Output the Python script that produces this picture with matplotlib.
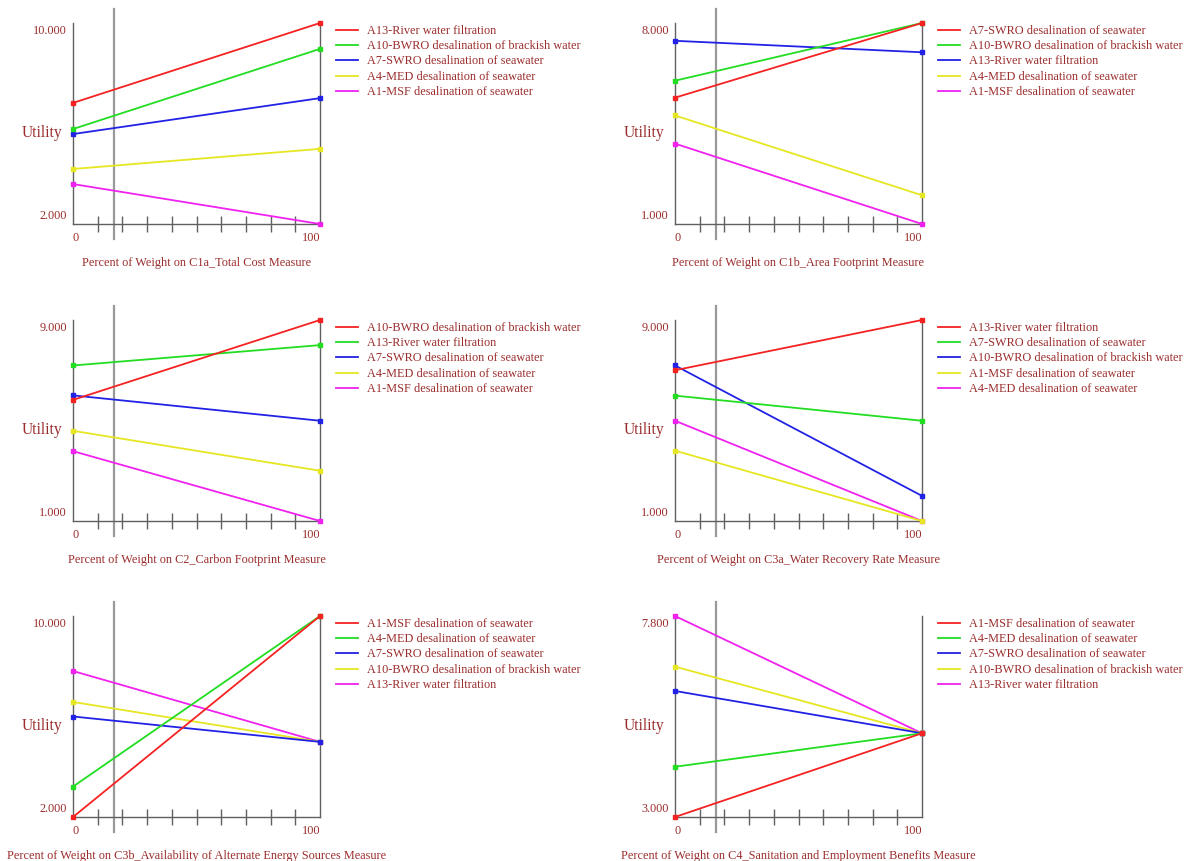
import matplotlib
matplotlib.use('Agg')
from matplotlib import pyplot as plt

# sensitivity of utility to the weight on each criterion (0% -> 100%)
current_weight = 100 / 6

crit_c1a = 'C1a_Total Cost Measure'
names_c1a = ['A13-River water filtration', 'A10-BWRO desalination of brackish water',
             'A7-SWRO desalination of seawater', 'A4-MED desalination of seawater',
             'A1-MSF desalination of seawater']
start_c1a = [6.82, 5.78, 5.58, 4.19, 3.59]
end_c1a = [10.0, 8.97, 7.01, 4.99, 2.0]
range_c1a = (2.0, 10.0)

crit_c1b = 'C1b_Area Footprint Measure'
names_c1b = ['A7-SWRO desalination of seawater', 'A10-BWRO desalination of brackish water',
             'A13-River water filtration', 'A4-MED desalination of seawater',
             'A1-MSF desalination of seawater']
start_c1b = [5.40, 5.99, 7.38, 4.78, 3.80]
end_c1b = [8.0, 8.0, 6.98, 2.0, 1.0]
range_c1b = (1.0, 8.0)

crit_c2 = 'C2_Carbon Footprint Measure'
names_c2 = ['A10-BWRO desalination of brackish water', 'A13-River water filtration',
            'A7-SWRO desalination of seawater', 'A4-MED desalination of seawater',
            'A1-MSF desalination of seawater']
start_c2 = [5.82, 7.19, 6.00, 4.59, 3.78]
end_c2 = [9.0, 8.0, 4.99, 3.0, 1.0]
range_c2 = (1.0, 9.0)

crit_c3a = 'C3a_Water Recovery Rate Measure'
names_c3a = ['A13-River water filtration', 'A7-SWRO desalination of seawater',
             'A10-BWRO desalination of brackish water', 'A1-MSF desalination of seawater',
             'A4-MED desalination of seawater']
start_c3a = [7.00, 5.99, 7.19, 3.80, 4.99]
end_c3a = [9.0, 4.99, 2.0, 1.0, 1.0]
range_c3a = (1.0, 9.0)

crit_c3b = 'C3b_Availability of Alternate Energy Sources Measure'
names_c3b = ['A1-MSF desalination of seawater', 'A4-MED desalination of seawater',
             'A7-SWRO desalination of seawater', 'A10-BWRO desalination of brackish water',
             'A13-River water filtration']
start_c3b = [2.0, 3.21, 6.0, 6.58, 7.81]
end_c3b = [10.0, 10.0, 4.99, 4.99, 4.99]
range_c3b = (2.0, 10.0)

crit_c4 = 'C4_Sanitation and Employment Benefits Measure'
names_c4 = ['A1-MSF desalination of seawater', 'A4-MED desalination of seawater',
            'A7-SWRO desalination of seawater', 'A10-BWRO desalination of brackish water',
            'A13-River water filtration']
start_c4 = [3.0, 4.20, 6.01, 6.59, 7.8]
end_c4 = [5.0, 5.0, 5.0, 5.0, 5.0]
range_c4 = (3.0, 7.8)

panels = [
    (crit_c1a, names_c1a, start_c1a, end_c1a, range_c1a),
    (crit_c1b, names_c1b, start_c1b, end_c1b, range_c1b),
    (crit_c2, names_c2, start_c2, end_c2, range_c2),
    (crit_c3a, names_c3a, start_c3a, end_c3a, range_c3a),
    (crit_c3b, names_c3b, start_c3b, end_c3b, range_c3b),
    (crit_c4, names_c4, start_c4, end_c4, range_c4),
]

line_colors = ['#f52222', '#22dd22', '#2222e6', '#e6e622', '#f022f0']
text_color = '#9b2d2d'
axis_color = '#606060'
small = 8.8

W, H = 1196, 862
plt.rcParams['font.family'] = ['Liberation Serif', 'DejaVu Serif']
fig = plt.figure(figsize=(W / 100, H / 100), dpi=100)


def fx(x):
    return x / W


def fy(y):
    # pixel rows are counted from the top
    return 1 - y / H


col_left = [73, 675]
row_top = [24, 321, 617]
ax_w, ax_h = 247, 201

for i, (crit, names, start, end, (ymin, ymax)) in enumerate(panels):
    left = col_left[i % 2]
    top = row_top[i // 2]
    ax = fig.add_axes([fx(left), fy(top + ax_h), ax_w / W, ax_h / H])
    ax.set_xlim(0, 100)
    ax.set_ylim(ymin, ymax)
    ax.patch.set_alpha(0)
    ax.spines['top'].set_visible(False)
    for s in ['left', 'right', 'bottom']:
        ax.spines[s].set_color(axis_color)
        ax.spines[s].set_linewidth(1.0)
    ax.set_xticks(range(10, 100, 10))
    ax.tick_params(axis='x', direction='inout', length=11, width=1, color=axis_color, labelbottom=False)
    ax.set_yticks([])

    # first alternative drawn last so it sits on top
    series = list(zip(names, start, end, line_colors))
    for k, (name, y0, y1, c) in enumerate(reversed(series)):
        ax.plot([0, 100], [y0, y1], color=c, lw=1.3, marker='s', markersize=3.2,
                clip_on=False, zorder=3 + k)

    # current weight marker
    ax.plot([current_weight, current_weight], [-15 / ax_h, 1 + 14 / ax_h],
            transform=ax.get_xaxis_transform(), color='#999999', lw=1.6, clip_on=False, zorder=2)

    right = left + ax_w
    bottom = top + ax_h
    fig.text(fx(left - 6), fy(top + 7), f'{ymax:.3f}', ha='right', va='center',
             fontsize=small, color=text_color)
    fig.text(fx(left - 6), fy(bottom - 9), f'{ymin:.3f}', ha='right', va='center',
             fontsize=small, color=text_color)
    fig.text(fx(left + 3), fy(bottom + 13), '0', ha='center', va='center',
             fontsize=small, color=text_color)
    fig.text(fx(right - 9), fy(bottom + 13), '100', ha='center', va='center',
             fontsize=small, color=text_color)
    fig.text(fx(left - 31), fy(top + 109), 'Utility', ha='center', va='center',
             fontsize=11.2, color=text_color)
    fig.text(fx(left + ax_w / 2), fy(bottom + 38), f'Percent of Weight on {crit}',
             ha='center', va='center', fontsize=small, color=text_color)

    # legend drawn beside the right axis
    for j, (name, c) in enumerate(zip(names, line_colors)):
        yy = top + 7 + 15.2 * j
        fig.add_artist(plt.Line2D([fx(right + 16), fx(right + 38)], [fy(yy), fy(yy)],
                                  color=c, lw=1.3, transform=fig.transFigure))
        fig.text(fx(right + 47), fy(yy), name, ha='left', va='center',
                 fontsize=small, color=text_color)

fig.savefig('out.png', dpi=100)
